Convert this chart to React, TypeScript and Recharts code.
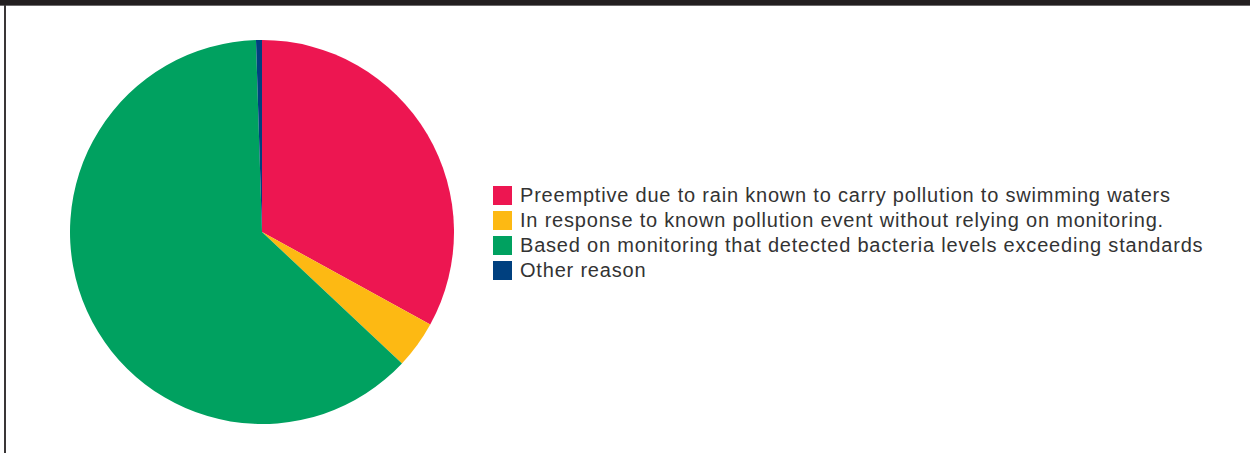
import { Cell, Legend, Pie, PieChart } from 'recharts'

// closure reasons, share of total (%)
const REASONS = [
  'Preemptive due to rain known to carry pollution to swimming waters',
  'In response to known pollution event without relying on monitoring.',
  'Based on monitoring that detected bacteria levels exceeding standards',
  'Other reason',
]
const SHARES = [33, 4, 62.5, 0.5]
const COLORS = ['#ed1651', '#fdb913', '#00a160', '#00407f']

const data = REASONS.map((name, i) => ({ name, value: SHARES[i] }))

function ReasonLegend() {
  return (
    <ul style={{ listStyle: 'none', margin: 0, padding: 0 }}>
      {data.map((d, i) => (
        <li key={d.name} style={{ display: 'flex', alignItems: 'center', height: 25 }}>
          <span
            style={{
              display: 'inline-block',
              width: 19,
              height: 19,
              background: COLORS[i],
              marginRight: 8,
            }}
          />
          <span style={{ fontSize: 20, letterSpacing: 0.8, color: '#333333', whiteSpace: 'nowrap' }}>
            {d.name}
          </span>
        </li>
      ))}
    </ul>
  )
}

export default function App() {
  return (
    <div
      style={{
        position: 'absolute',
        left: 0,
        top: 0,
        width: 1250,
        height: 453,
        background: '#ffffff',
        fontFamily: '"Liberation Sans", Arial, sans-serif',
        overflow: 'hidden',
      }}
    >
      <div style={{ position: 'absolute', left: 0, top: 0, width: 1250, height: 5, background: '#231f20' }} />
      <div style={{ position: 'absolute', left: 0, top: 5, width: 1250, height: 1, background: '#6d6b6c' }} />
      <div style={{ position: 'absolute', left: 4, top: 5, width: 2, height: 448, background: '#3a3637' }} />
      <PieChart width={1250} height={453} margin={{ top: 0, right: 0, bottom: 0, left: 0 }}>
        <Pie
          data={data}
          dataKey="value"
          nameKey="name"
          cx={262}
          cy={232}
          outerRadius={192}
          startAngle={90}
          endAngle={-270}
          stroke="none"
          isAnimationActive={false}
        >
          {data.map((d, i) => (
            <Cell key={d.name} fill={COLORS[i]} />
          ))}
        </Pie>
        <Legend
          layout="vertical"
          content={<ReasonLegend />}
          wrapperStyle={{ left: 493, top: 183, width: 740 }}
        />
      </PieChart>
    </div>
  )
}
